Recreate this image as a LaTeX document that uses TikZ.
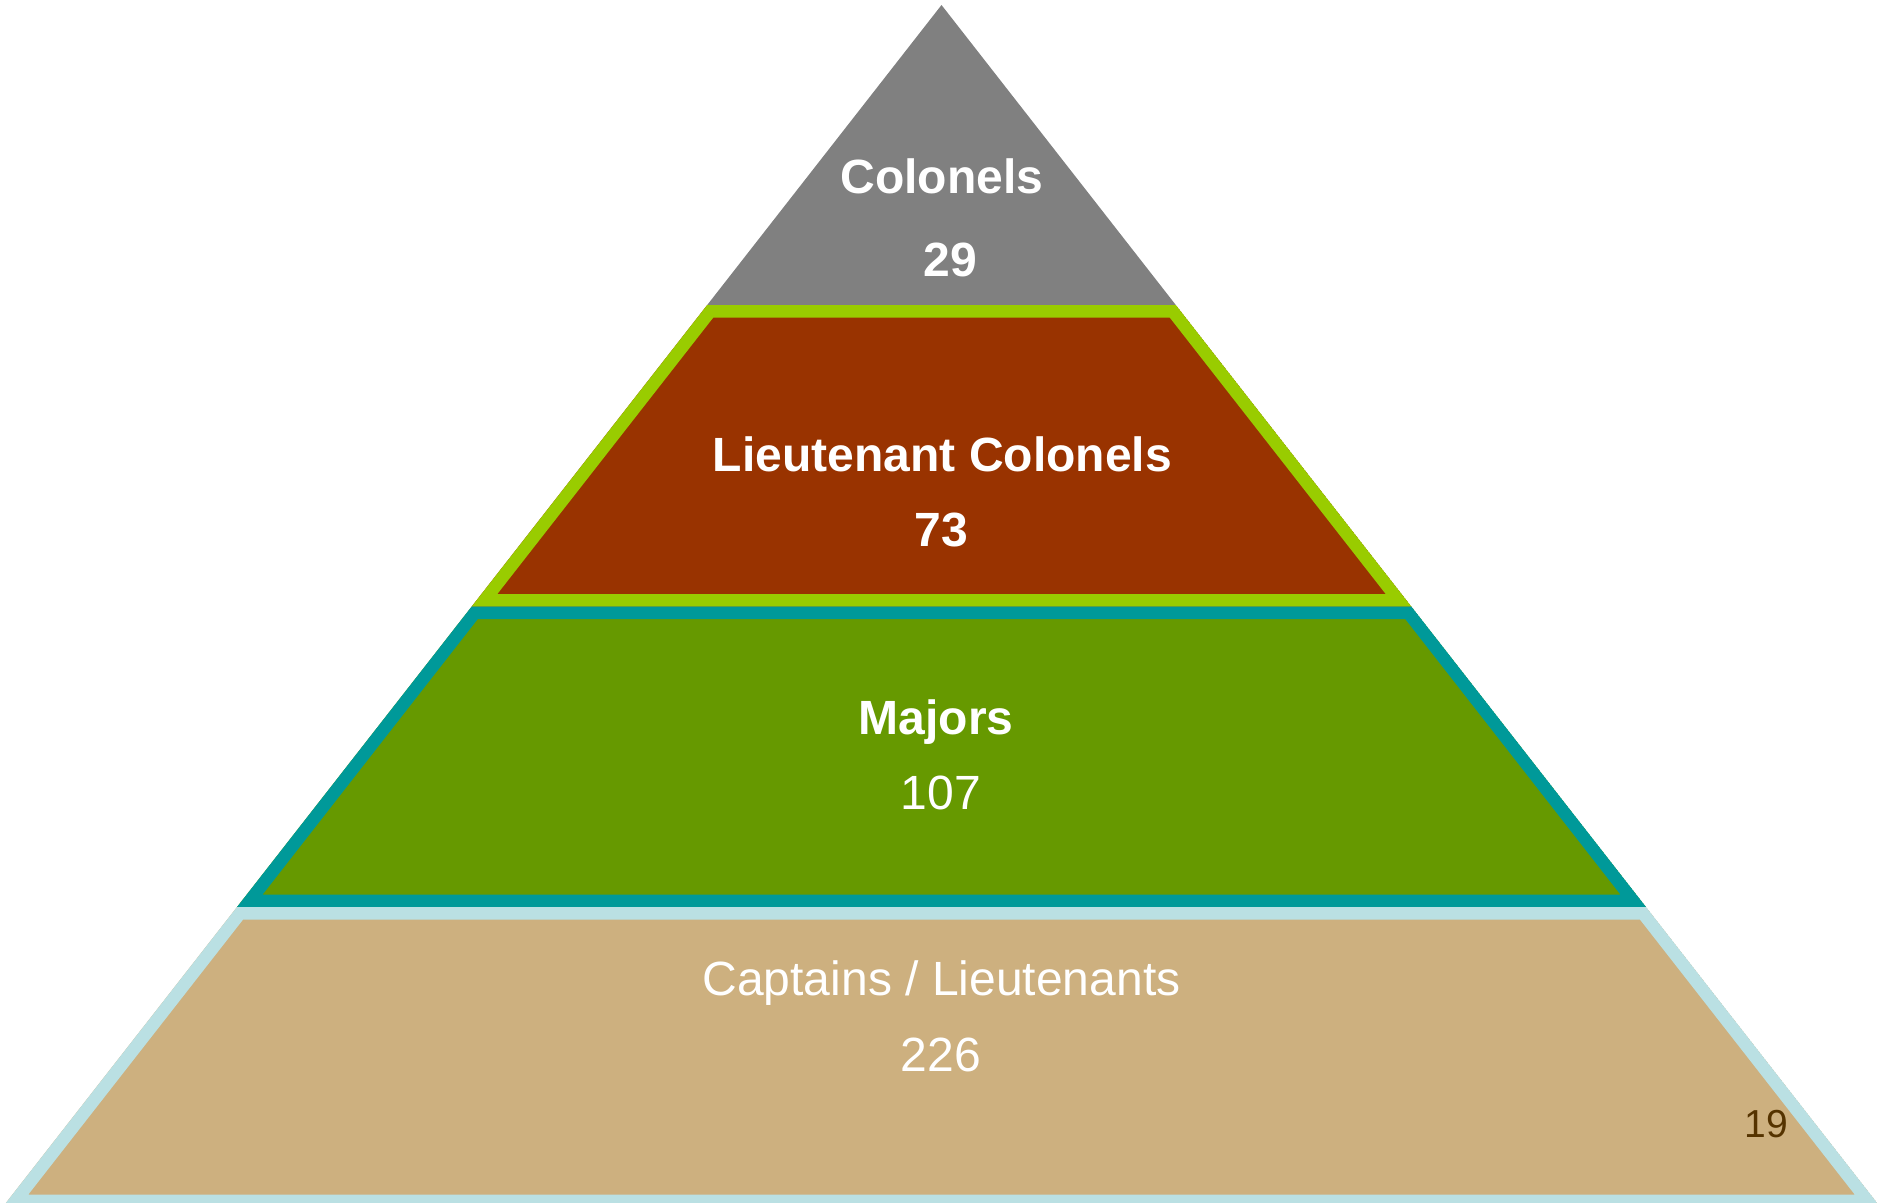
\documentclass[tikz,border=0pt]{standalone}
\usepackage{fontspec}
\setmainfont{Liberation Sans}
\usepackage{xcolor}
\usepackage{tikz}
\definecolor{topgray}{HTML}{808080}
\definecolor{ltcolfill}{HTML}{993300}
\definecolor{ltcolline}{HTML}{99CC00}
\definecolor{majfill}{HTML}{669900}
\definecolor{majline}{HTML}{009999}
\definecolor{captfill}{HTML}{CDB07F}
\definecolor{captline}{HTML}{BAE0E3}
\definecolor{pagenum}{HTML}{553300}
\tikzset{ layer/.style = {line width=0.25cm, line join=miter} }
\tikzset{ rank/.style = {text=white, inner sep=0pt, anchor=base, font=\bfseries\fontsize{13.66}{16}\selectfont} }
\tikzset{ plain/.style = {text=white, inner sep=0pt, anchor=base, font=\fontsize{13.66}{16}\selectfont} }

\begin{document}
\begin{tikzpicture}[x=0.01cm, y=-0.01cm]
    \useasboundingbox (0,0) rectangle (1877,1202);
    \coordinate (apex) at (941.5,5);
    \coordinate (L1) at (707.2,305);
    \coordinate (R1) at (1175.8,305);
    \coordinate (L2) at (471.7,606.5);
    \coordinate (R2) at (1411.3,606.5);
    \coordinate (L3) at (237,907);
    \coordinate (R3) at (1646,907);
    \coordinate (L4) at (2.7,1207);
    \coordinate (R4) at (1880.3,1207);
    % top
    \fill[topgray] (apex) -- (R1) -- (L1) -- cycle;
    % the three lower layers, border kept inside each shape
    \begin{scope}
    \clip (L1) -- (R1) -- (R2) -- (L2) -- cycle;
    \draw[layer, fill=ltcolfill, draw=ltcolline] (L1) -- (R1) -- (R2) -- (L2) -- cycle;
    \end{scope}
    \begin{scope}
    \clip (L2) -- (R2) -- (R3) -- (L3) -- cycle;
    \draw[layer, fill=majfill, draw=majline] (L2) -- (R2) -- (R3) -- (L3) -- cycle;
    \end{scope}
    \begin{scope}
    \clip (L3) -- (R3) -- (R4) -- (L4) -- cycle;
    \draw[layer, fill=captfill, draw=captline] (L3) -- (R3) -- (R4) -- (L4) -- cycle;
    \end{scope}
    % labels
    \node[rank] (col) at (942,193) {Colonels};
    \node[rank] (colnum) at (950,276) {29};
    \node[rank] (ltcol) at (942.5,471.5) {Lieutenant Colonels};
    \node[rank] (ltcolnum) at (941,546) {73};
    \node[rank] (maj) at (936,734) {Majors};
    \node[plain] (majnum) at (941,809.5) {107};
    \node[plain] (capt) at (941.5,995.5) {Captains / Lieutenants};
    \node[plain] (captnum) at (941,1071.5) {226};
    \node[inner sep=0pt, anchor=base, text=pagenum, font=\fontsize{11.1}{13}\selectfont] (page) at (1766.5,1137.5) {19};
\end{tikzpicture}
\end{document}
